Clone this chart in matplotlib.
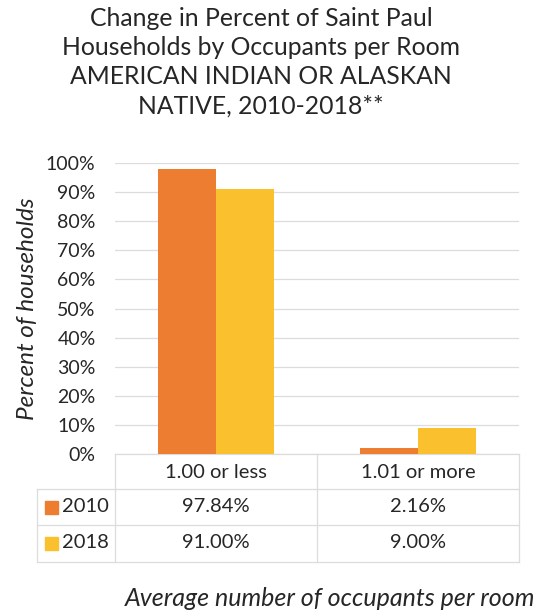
import matplotlib.pyplot as plt
from matplotlib.lines import Line2D
from matplotlib.patches import Rectangle

plt.rcParams['font.family'] = ['Lato', 'DejaVu Sans']

categories = ['1.00 or less', '1.01 or more']
series_names = ['2010', '2018']
values_2010 = [97.84, 2.16]
values_2018 = [91.00, 9.00]
y_ticks = [0, 10, 20, 30, 40, 50, 60, 70, 80, 90, 100]

title = ('Change in Percent of Saint Paul\nHouseholds by Occupants per Room\n'
         'AMERICAN INDIAN OR ALASKAN\nNATIVE, 2010-2018**')
colors = ['#ED7D31', '#FBC02D']
grid_col = '#dcdcdc'
text_col = '#262626'


def main():
    fig = plt.figure(figsize=(5.42, 6.13), dpi=100)
    W, H = 542, 613
    # plot area in pixels: x 115..519, y(100%) 163 .. y(0%) 454
    left, right, top, bottom = 115, 519, 163, 454
    ax = fig.add_axes([left / W, 1 - bottom / H, (right - left) / W, (bottom - top) / H])

    bw = 0.287
    xs = range(len(categories))
    all_vals = [values_2010, values_2018]
    for k, vals in enumerate(all_vals):
        ax.bar([x + (k - 0.5) * bw for x in xs], vals, width=bw, color=colors[k], zorder=3)

    ax.set_xlim(-0.5, len(categories) - 0.5)
    ax.set_ylim(0, 100)
    ax.set_yticks(y_ticks)
    ax.set_yticklabels([f'{t}%' for t in y_ticks], fontsize=14, color=text_col)
    ax.set_xticks([])
    ax.yaxis.grid(True, color=grid_col, linewidth=0.9, zorder=0)
    for s in ax.spines.values():
        s.set_visible(False)
    ax.tick_params(axis='y', length=0, pad=14)

    fig.text(28 / W, 1 - 309 / H, 'Percent of households', rotation=90, ha='center',
             va='center', fontsize=17.5, style='italic', color=text_col)

    # data table below the plot
    ph = bottom - top
    pw = right - left

    def ay(py):
        return (bottom - py) / ph

    def ax_(px):
        return (px - left) / pw

    t = ax.transAxes
    row_lines = [454, 489, 525, 562]
    for i, py in enumerate(row_lines):
        x0 = left if i == 0 else 37
        ax.add_line(Line2D([ax_(x0), 1], [ay(py), ay(py)], transform=t, color=grid_col,
                           linewidth=0.9, clip_on=False))
    for px in [left, 317, right]:
        ax.add_line(Line2D([ax_(px), ax_(px)], [ay(454), ay(562)], transform=t, color=grid_col,
                           linewidth=0.9, clip_on=False))
    ax.add_line(Line2D([ax_(37), ax_(37)], [ay(489), ay(562)], transform=t, color=grid_col,
                       linewidth=0.9, clip_on=False))

    for j, cat in enumerate(categories):
        ax.text(j, ay(472), cat, transform=ax.get_xaxis_transform(), ha='center', va='center',
                fontsize=14.5, color=text_col)

    row_y = [507, 543]
    for k, name in enumerate(series_names):
        yy = ay(row_y[k])
        ax.add_patch(Rectangle((ax_(45), yy - 6.5 / ph), 13 / pw, 13 / ph, transform=t,
                               color=colors[k], clip_on=False))
        ax.text(ax_(62), yy, name, transform=t, ha='left', va='center', fontsize=14.5,
                color=text_col)
        for j, v in enumerate(all_vals[k]):
            ax.text(j, yy, f'{v:.2f}%', transform=ax.get_xaxis_transform(), ha='center',
                    va='center', fontsize=14.5, color=text_col)

    fig.text(261 / W, 1 - 7 / H, title, ha='center', va='top', fontsize=17.8, color=text_col,
             linespacing=1.32)
    fig.text(535 / W, 1 - 606 / H, 'Average number of occupants per room', ha='right',
             va='baseline', fontsize=18, style='italic', color=text_col)

    fig.savefig('out.png', dpi=100)


if __name__ == '__main__':
    main()
